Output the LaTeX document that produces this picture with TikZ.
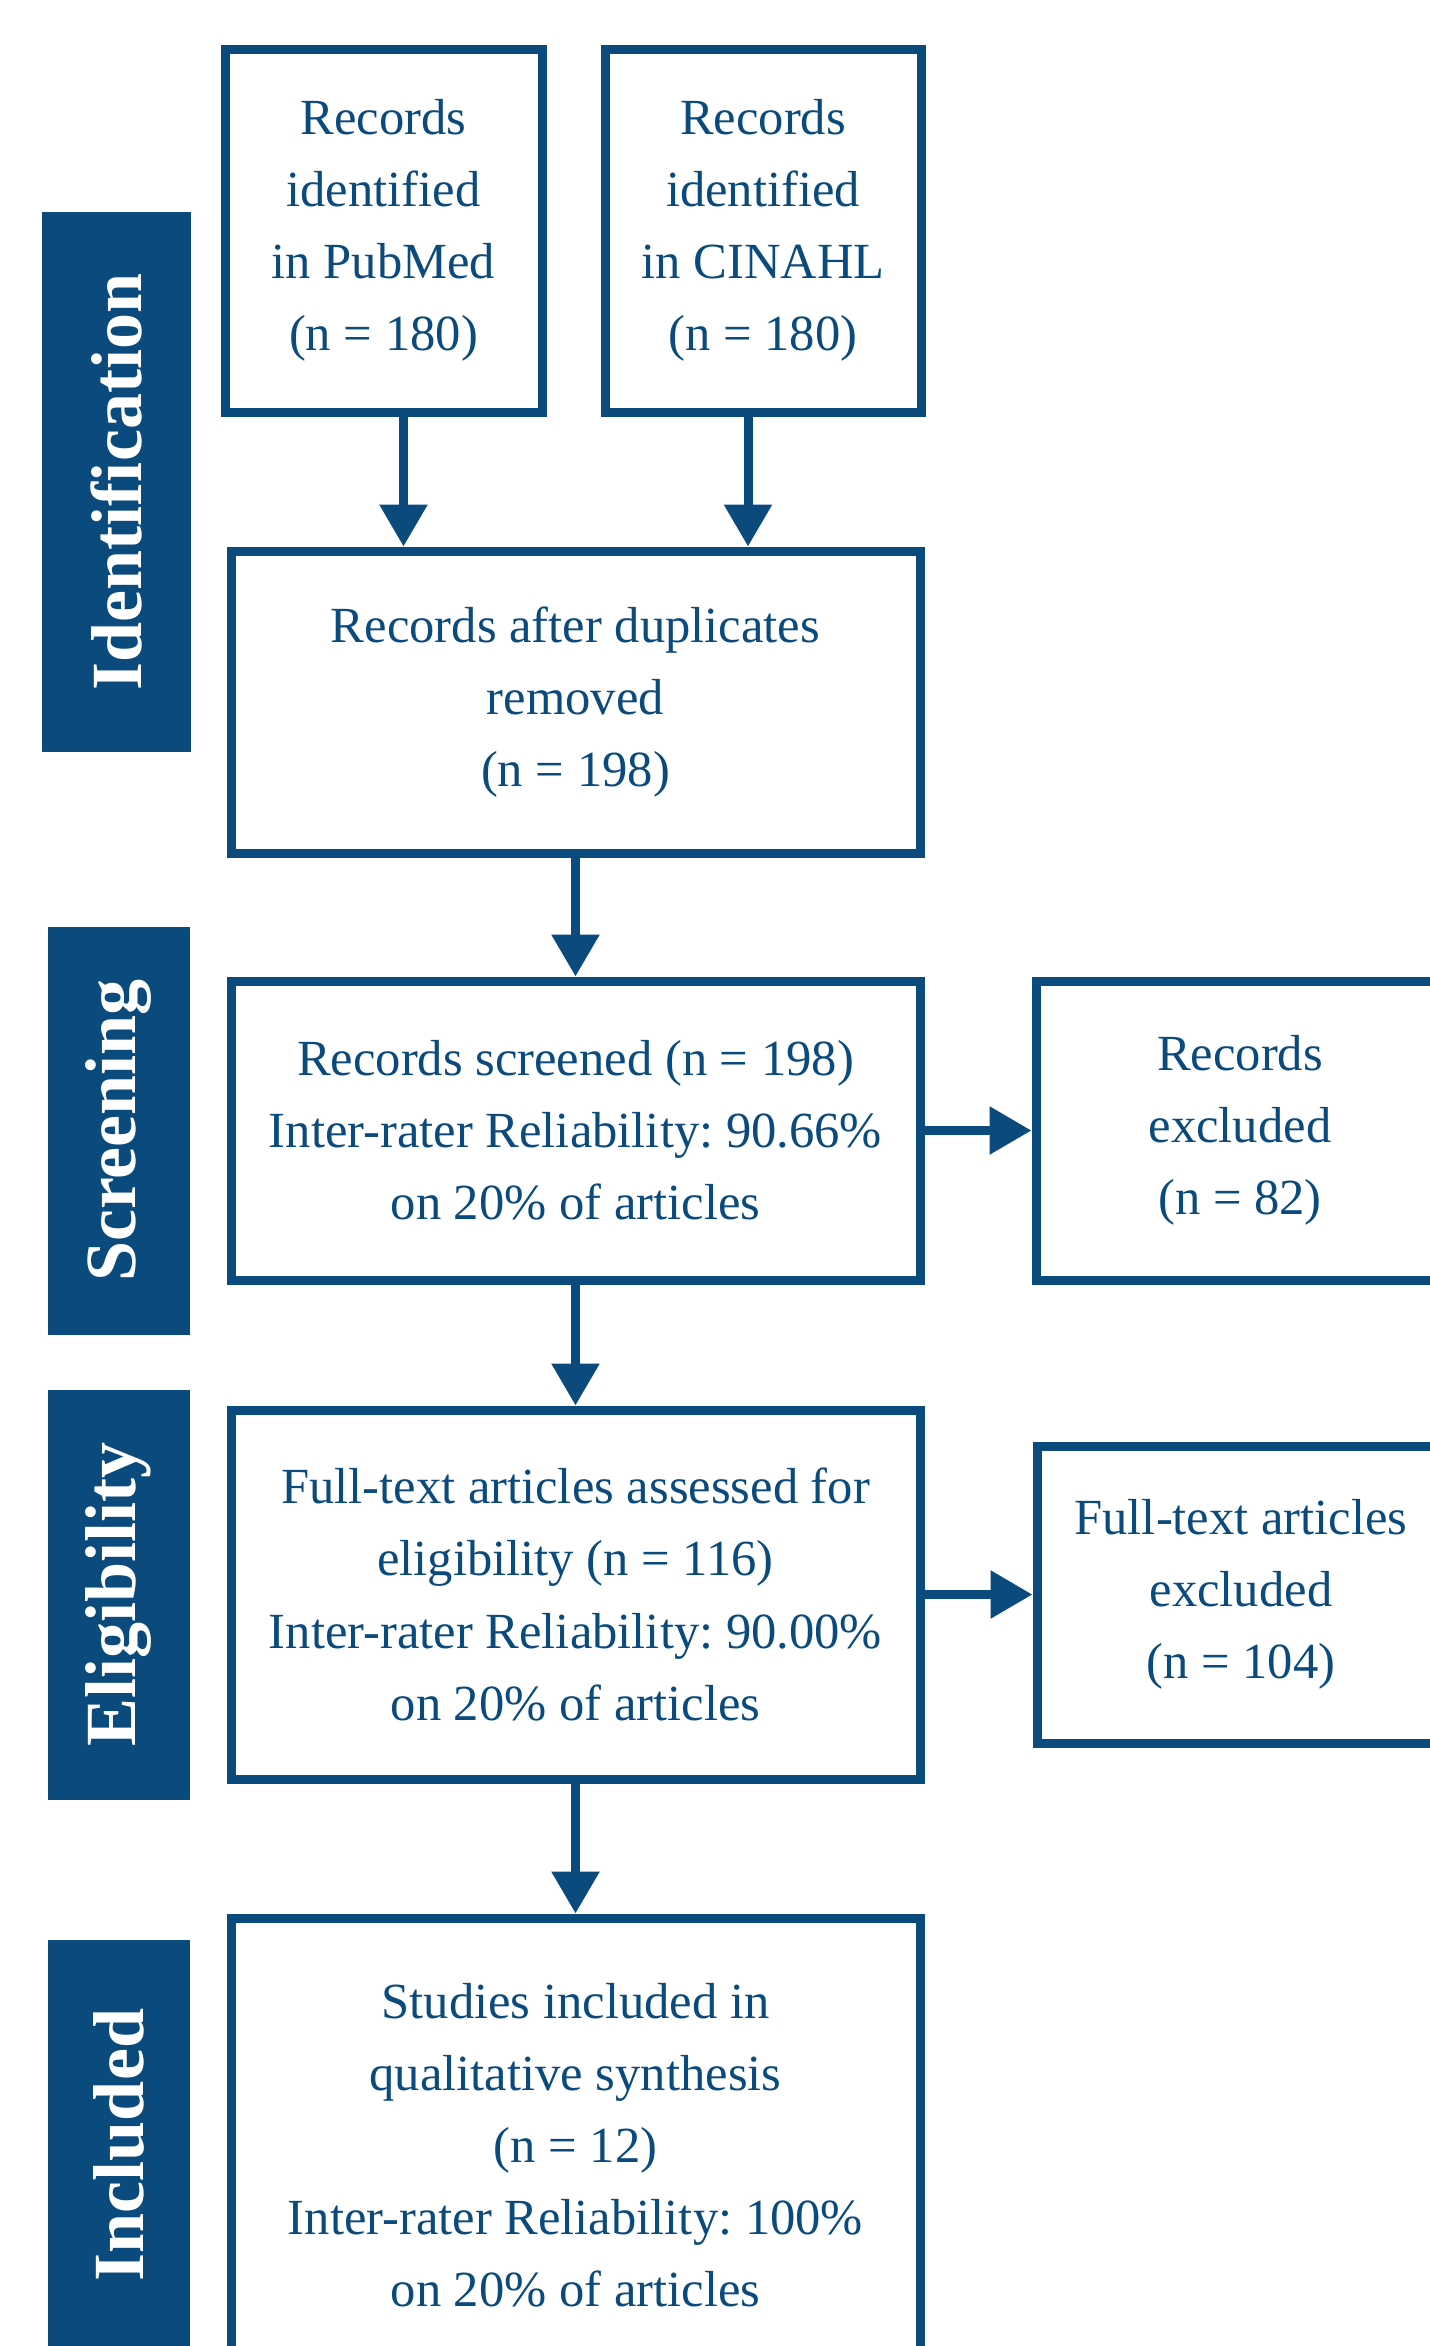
\documentclass[tikz,border=0pt]{standalone}
\usepackage{fontspec}
\setmainfont{Liberation Serif}
\usetikzlibrary{arrows.meta,positioning}

\definecolor{prismablue}{RGB}{11,74,124}
\frenchspacing

\begin{document}
\begin{tikzpicture}[
    node distance=12mm and 11mm,
    box/.style={draw=prismablue, line width=0.9mm, fill=white, align=center, inner sep=0pt,
        text=prismablue, font=\fontsize{14.4}{20.5}\selectfont},
    wide/.style={box, minimum width=6.89cm},
    side/.style={box, minimum width=4.08cm},
    phase/.style={fill=prismablue, text=white, inner sep=0pt, minimum width=1.42cm,
        font=\fontsize{20.5}{24}\selectfont\bfseries},
    arr/.style={-{Triangle[length=4.2mm, width=4.6mm]}, line width=0.9mm, draw=prismablue}
]
\useasboundingbox (0,0) rectangle (14.30,-23.46);
\clip (0,0) rectangle (14.30,-23.46);

\node[box, minimum width=3.17cm, minimum height=3.63cm] (pubmed) at (3.835,-2.305) {Records\\identified\\in PubMed\\(n = 180)};
\node[box, right=0.54cm of pubmed, minimum width=3.16cm, minimum height=3.63cm] (cinahl) {Records\\identified\\in CINAHL\\(n = 180)};

\node[wide, below=1.30cm of pubmed.south west, anchor=north west, xshift=0.6mm, minimum height=3.02cm] (dup) {Records after duplicates\\removed\\(n = 198)};
\node[wide, below=1.19cm of dup, minimum height=2.99cm] (screen) {Records screened (n = 198)\\Inter-rater Reliability: 90.66\%\\on 20\% of articles};
\node[side, right=1.07cm of screen, minimum height=2.99cm] (excl) {Records\\excluded\\(n = 82)};
\node[wide, below=1.21cm of screen, minimum height=3.69cm] (fulltext) {Full-text articles assessed for\\eligibility (n = 116)\\Inter-rater Reliability: 90.00\%\\on 20\% of articles};
\node[side, right=1.08cm of fulltext, minimum height=2.97cm] (ftexcl) {Full-text articles\\excluded\\(n = 104)};
\node[wide, below=1.30cm of fulltext, minimum height=4.54cm] (incl) {Studies included in\\qualitative synthesis\\(n = 12)\\Inter-rater Reliability: 100\%\\on 20\% of articles};

% phase labels on the left
\node[phase, minimum width=1.49cm, minimum height=5.40cm] (identification) at (1.165,-4.82) {\rotatebox{90}{Identification}};
\node[phase, left=0.36cm of screen, minimum height=4.08cm] (screening) {\rotatebox{90}{Screening}};
\node[phase, left=0.36cm of fulltext, minimum height=4.10cm] (eligibility) {\rotatebox{90}{Eligibility}};
\node[phase, left=0.36cm of incl, minimum height=4.10cm] (included) {\rotatebox{90}{Included}};

\draw[arr] ([xshift=2mm]pubmed.south) -- ([xshift=2mm]pubmed.south |- dup.north);
\draw[arr] ([xshift=-1.5mm]cinahl.south) -- ([xshift=-1.5mm]cinahl.south |- dup.north);
\draw[arr] (dup.south) -- (screen.north);
\draw[arr] (screen.east) -- (excl.west);
\draw[arr] (screen.south) -- (fulltext.north);
\draw[arr] (fulltext.east) -- (ftexcl.west);
\draw[arr] (fulltext.south) -- (incl.north);
\end{tikzpicture}
\end{document}
